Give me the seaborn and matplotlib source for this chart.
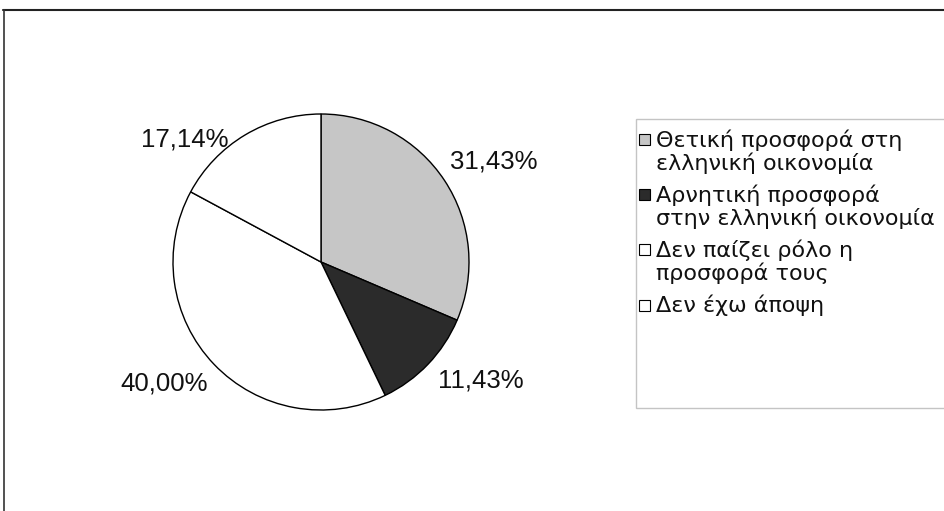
"""
Πίτα: άποψη για την προσφορά στην ελληνική οικονομία
"""

import matplotlib
matplotlib.use('Agg')
import matplotlib.pyplot as plt
import seaborn as sns
from matplotlib.patches import Rectangle
from matplotlib.lines import Line2D

categories = [
    'Θετική προσφορά στη\nελληνική οικονομία',
    'Αρνητική προσφορά\nστην ελληνική οικονομία',
    'Δεν παίζει ρόλο η\nπροσφορά τους',
    'Δεν έχω άποψη',
]
values = [31.43, 11.43, 40.00, 17.14]
value_labels = ['31,43%', '11,43%', '40,00%', '17,14%']
colors = ['#c6c6c6', '#2b2b2b', '#ffffff', '#ffffff']

sns.set_theme(style='white')
plt.rcParams['font.family'] = ['Liberation Sans', 'DejaVu Sans']

W, H = 945, 511
fig = plt.figure(figsize=(W / 100, H / 100), dpi=100)
fig.patch.set_facecolor('white')

# пирог: центр (321, 262), радиус 148 px
cx, cy, r = 321, 262, 148
ax = fig.add_axes([(cx - r) / W, (H - cy - r) / H, 2 * r / W, 2 * r / H])

wedges, _ = ax.pie(values, colors=colors, startangle=90, counterclock=False,
                   wedgeprops=dict(edgecolor='black', linewidth=1.0))
ax.set_xlim(-1, 1)
ax.set_ylim(-1, 1)
ax.set_aspect('equal')
ax.axis('off')

# подписи значений (положение в единицах радиуса)
label_pos = [(1.17, 0.68), (1.08, -0.80), (-1.06, -0.82), (-0.92, 0.83)]
for txt, (lx, ly) in zip(value_labels, label_pos):
    ax.text(lx, ly, txt, ha='center', va='center', fontsize=18.5, color='#111111')

# рамка легенды
fig.patches.append(Rectangle((636 / W, 1 - 408 / H), 320 / W, 289 / H,
                             transform=fig.transFigure, facecolor='white',
                             edgecolor='#c4c4c4', linewidth=1.0, zorder=0))

# легенда вручную: квадрат напротив первой строки
line_h = 23
entry_gap = 9
y = 140
for w, label in zip(wedges, categories):
    sq = 11
    fig.patches.append(Rectangle((639 / W, 1 - (y + sq / 2) / H), sq / W, sq / H,
                                 transform=fig.transFigure,
                                 facecolor=w.get_facecolor(),
                                 edgecolor='black', linewidth=0.8, zorder=2))
    lines = label.split('\n')
    for k, ln in enumerate(lines):
        fig.text(656 / W, 1 - (y + k * line_h) / H, ln, ha='left', va='center',
                 fontsize=16, color='#111111', family=['DejaVu Sans'])
    y += len(lines) * line_h + entry_gap

# внешняя рамка области диаграммы
fig.add_artist(Line2D([3 / W, 1], [1 - 10 / H, 1 - 10 / H],
                      transform=fig.transFigure, color='#222222', linewidth=1.5))
fig.add_artist(Line2D([4 / W, 4 / W], [1 - 10 / H, 0],
                      transform=fig.transFigure, color='#333333', linewidth=1.2))

plt.savefig('out.png', dpi=100)
